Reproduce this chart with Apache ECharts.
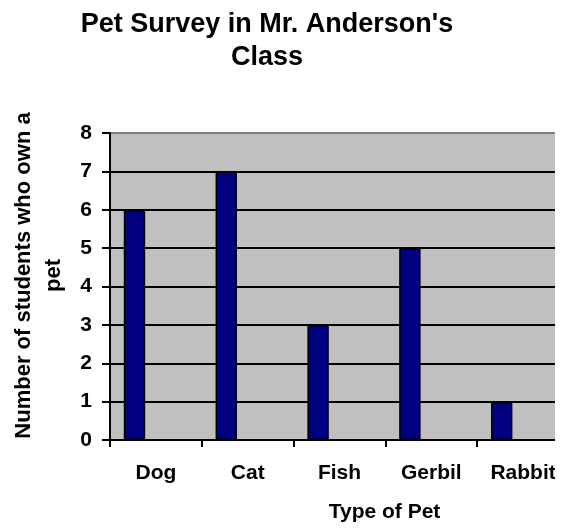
<!DOCTYPE html>
<html>
<head>
<meta charset="utf-8">
<script src="https://cdn.jsdelivr.net/npm/echarts@6/dist/echarts.min.js"></script>
<style>html,body{margin:0;padding:0;background:#fff;}#c{width:572px;height:529px;}</style>
</head>
<body>
<div id="c"></div>
<script>
const categories = ['Dog', 'Cat', 'Fish', 'Gerbil', 'Rabbit'];
const petCounts = [6, 7, 3, 5, 1];
const emptySeriesA = [];
const emptySeriesB = [];
const yTicks = [0, 1, 2, 3, 4, 5, 6, 7, 8];

const FONT = '"Liberation Sans", Arial, sans-serif';
const chart = echarts.init(document.getElementById('c'), null, {renderer: 'canvas'});
const splitColors = yTicks.map((v, i) => i === yTicks.length - 1 ? '#808080' : '#000000');
chart.setOption({
  animation: false,
  backgroundColor: '#ffffff',
  title: {
    text: "Pet Survey in Mr. Anderson's\nClass",
    left: 262,
    textAlign: 'center',
    top: 3,
    textStyle: {fontFamily: FONT, fontSize: 27, fontWeight: 'bold', color: '#000', lineHeight: 33}
  },
  grid: {
    left: 110, top: 133, right: 3, bottom: 89,
    show: true, backgroundColor: '#c0c0c0', borderWidth: 0,
    containLabel: false
  },
  xAxis: {
    type: 'category',
    data: categories,
    name: 'Type of Pet',
    nameLocation: 'middle',
    nameGap: 62,
    nameTextStyle: {fontFamily: FONT, fontSize: 21, fontWeight: 'bold', color: '#000', padding: [0, 0, 0, 90]},
    axisLine: {lineStyle: {color: '#000', width: 2}},
    axisTick: {show: true, length: 7, lineStyle: {color: '#000', width: 2}},
    axisLabel: {fontFamily: FONT, fontSize: 21, fontWeight: 'bold', color: '#000', margin: 23}
  },
  yAxis: {
    type: 'value',
    min: 0, max: 8, interval: 1,
    name: 'Number of students who own a\npet',
    nameLocation: 'middle',
    nameGap: 39,
    nameTextStyle: {fontFamily: FONT, fontSize: 22, fontWeight: 'bold', color: '#000', lineHeight: 30, padding: [0, 0, 0, 22]},
    axisLine: {show: true, lineStyle: {color: '#000', width: 2}},
    axisTick: {show: true, length: 8, lineStyle: {color: '#000', width: 2}},
    axisLabel: {fontFamily: FONT, fontSize: 21, fontWeight: 'bold', color: '#000', margin: 18},
    splitLine: {show: true, lineStyle: {color: splitColors, width: 2}}
  },
  series: [
    {type: 'bar', data: petCounts, barGap: '0%', barCategoryGap: '30%',
     itemStyle: {color: '#000080', borderColor: '#000', borderWidth: 1.5}},
    {type: 'bar', data: emptySeriesA, barGap: '0%', barCategoryGap: '30%'},
    {type: 'bar', data: emptySeriesB, barGap: '0%', barCategoryGap: '30%'}
  ],
  graphic: [{
    type: 'rect', left: 555, top: 0, z: 1000,
    shape: {width: 17, height: 529},
    style: {fill: '#ffffff'}
  }]
});
</script>
</body>
</html>
